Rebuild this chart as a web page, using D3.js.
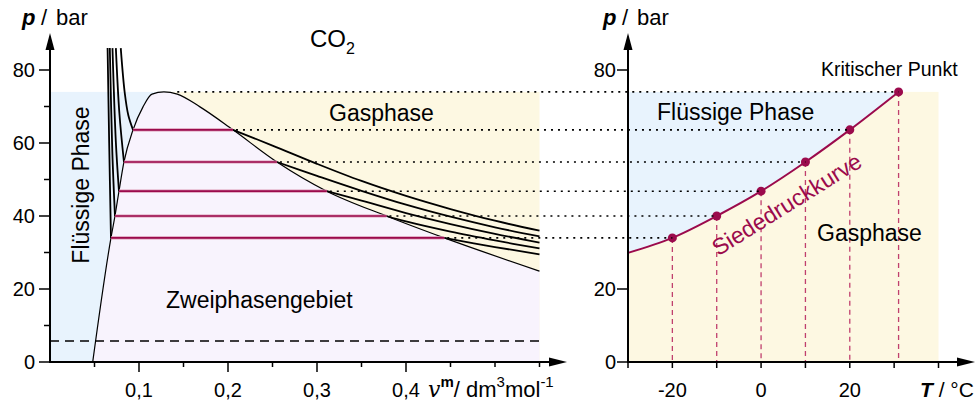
<!DOCTYPE html>
<html>
<head>
<meta charset="utf-8">
<script src="https://cdn.jsdelivr.net/npm/d3@7"></script>
<style>
  body { margin: 0; background: #fff; }
  svg { display: block; font-family: "Liberation Sans", Arial, sans-serif; }
</style>
</head>
<body>
<svg id="chart" width="975" height="405"></svg>
<script>
// ---- data ----
const temps = [-20, -10, 0, 10, 20];            // isotherms, °C
const tieP = [34, 40, 46.8, 54.8, 63.6];        // vapour pressure, bar
const tieVLiq = [0.0685, 0.073, 0.0775, 0.0831, 0.0933];
const tieVGas = [0.443, 0.378, 0.311, 0.255, 0.2056];

const liqBranches = [
    [[0.0685, 34], [0.0665, 60], [0.0647, 86]],
    [[0.073, 40], [0.070, 57.7], [0.0672, 86]],
    [[0.0775, 46.8], [0.074, 60.2], [0.0702, 86]],
    [[0.0831, 54.8], [0.078, 68], [0.074, 86]],
    [[0.0933, 63.6], [0.088, 67.6], [0.084, 73.7], [0.0795, 86]]
];
const gasBranches = [
    [[0.443, 34], [0.5, 31.5], [0.55, 29.5]],
    [[0.378, 40], [0.4, 38.5], [0.45, 35.7], [0.5, 33.3], [0.55, 31.1]],
    [[0.311, 46.8], [0.35, 44.2], [0.4, 40.8], [0.45, 37.8], [0.5, 35.1], [0.55, 32.7]],
    [[0.255, 54.8], [0.3, 51.0], [0.35, 46.9], [0.4, 43.1], [0.45, 39.8], [0.5, 36.9], [0.55, 34.4]],
    [[0.2056, 63.6], [0.25, 59.3], [0.3, 54.3], [0.35, 49.6], [0.4, 45.5], [0.45, 41.9], [0.5, 38.7], [0.55, 36.0]]
];

const binodalV = [0.048, 0.0685, 0.073, 0.0775, 0.0831, 0.0933, 0.1045, 0.1146, 0.128, 0.143, 0.1685, 0.2056, 0.255, 0.311, 0.378, 0.443, 0.55];
const binodalP = [0, 34, 40, 46.8, 54.8, 63.6, 69.9, 73.4, 74, 73.4, 69.9, 63.6, 54.8, 46.8, 40, 34, 24.9];

const critV = 0.128, critShoulderV = 0.143, critP = 74, critT = 31;
const vMax = 0.55;
const dashedP = 5.75;

const curveT = [-30, -20, -10, 0, 10, 20, 31];
const curveP = [29.9, 34, 40, 46.8, 54.8, 63.6, 74];
const pointT = [-20, -10, 0, 10, 20, 31];
const pointP = [34, 40, 46.8, 54.8, 63.6, 74];

const vMajor = [0.1, 0.2, 0.3, 0.4];
const vMajorLabels = ['0,1', '0,2', '0,3', '0,4'];
const vMinor = [0.05, 0.15, 0.25, 0.35, 0.45, 0.5, 0.55];
const pMajor = [0, 20, 40, 60, 80];
const pMinor = [10, 30, 50, 70];
const pRightLabels = [0, 20, 80];
const tTicks = [-30, -20, -10, 0, 10, 20, 30, 40];
const tLabels = [-20, 0, 20];

// ---- styles ----
const blueFill = '#e8f3fd',
    yellowFill = '#fdf8e2',
    purpleFill = '#f8f3fd',
    crimson = '#9b0a4c',
    crimsonHalo = '#dc9ab6',
    crimsonLight = '#c0406e';

// small helper, like d3-selection-multi
d3.selection.prototype.attrs = function (o) {
    Object.keys(o).forEach(k => this.attr(k, o[k]));
    return this;
};

const svg = d3.select('#chart');

const x = d3.scaleLinear().domain([0, 0.1]).range([50, 139]);
const y = d3.scaleLinear().domain([0, 80]).range([362, 70]);
const xT = d3.scaleLinear().domain([-30, 40]).range([628, 938.5]);

const fontSize = 20,
    labelSize = 23;

// ================= left chart =================
const left = svg.append('g');

left.append('rect')
    .attrs({ x: x(0), y: y(critP), width: x(critV) - x(0), height: y(0) - y(critP), fill: blueFill });
left.append('rect')
    .attrs({ x: x(critV), y: y(critP), width: x(vMax) - x(critV), height: y(0) - y(critP), fill: yellowFill });

const binodal = binodalV.map((v, i) => [v, binodalP[i]]);
left.append('path')
    .datum(binodal)
    .attr('d', d3.area().x(d => x(d[0])).y0(y(0)).y1(d => y(d[1])).curve(d3.curveMonotoneX))
    .attr('fill', purpleFill);

// dashed line at low pressure
left.append('line')
    .attrs({ x1: x(0), x2: x(vMax), y1: y(dashedP), y2: y(dashedP), stroke: '#000', 'stroke-width': 1.5, 'stroke-dasharray': '9,6' });

// binodal
left.append('path')
    .datum(binodal)
    .attr('d', d3.line().x(d => x(d[0])).y(d => y(d[1])).curve(d3.curveMonotoneX))
    .attrs({ fill: 'none', stroke: '#000', 'stroke-width': 1.2 });

// isotherms
const isoLine = d3.line().x(d => x(d[0])).y(d => y(d[1])).curve(d3.curveCatmullRom);
liqBranches.concat(gasBranches).forEach(b => {
    left.append('path').attr('d', isoLine(b))
        .attrs({ fill: 'none', stroke: '#000', 'stroke-width': 1.8 });
});

// tie lines
tieP.forEach((p, i) => {
    left.append('line')
        .attrs({ x1: x(tieVLiq[i]), x2: x(tieVGas[i]), y1: y(p), y2: y(p), stroke: crimsonHalo, 'stroke-width': 3.2 });
    left.append('line')
        .attrs({ x1: x(tieVLiq[i]), x2: x(tieVGas[i]), y1: y(p), y2: y(p), stroke: crimson, 'stroke-width': 1.7 });
});

// ================= right chart =================
const right = svg.append('g');
right.append('rect')
    .attrs({ x: xT(-30), y: y(critP), width: xT(40) - xT(-30), height: y(0) - y(critP), fill: yellowFill });

const vap = curveT.map((t, i) => [t, curveP[i]]);
right.append('path')
    .datum(vap)
    .attr('d', d3.area().x(d => xT(d[0])).y0(y(critP)).y1(d => y(d[1])).curve(d3.curveMonotoneX))
    .attr('fill', blueFill);

pointT.forEach((t, i) => {
    right.append('line')
        .attrs({ x1: xT(t), x2: xT(t), y1: y(pointP[i]), y2: y(0), stroke: crimsonLight, 'stroke-width': 1.3, 'stroke-dasharray': '5,4' });
});

// dotted connectors
const dotted = svg.append('g');
tieP.forEach((p, i) => {
    dotted.append('line')
        .attrs({ x1: x(tieVGas[i]) + 3, x2: xT(temps[i]), y1: y(p), y2: y(p), stroke: '#000', 'stroke-width': 1.6, 'stroke-dasharray': '2,5' });
});
dotted.append('line')
    .attrs({ x1: x(critShoulderV), x2: xT(critT), y1: y(critP), y2: y(critP), stroke: '#000', 'stroke-width': 1.6, 'stroke-dasharray': '2,5' });

right.append('path')
    .datum(vap)
    .attr('d', d3.line().x(d => xT(d[0])).y(d => y(d[1])).curve(d3.curveMonotoneX))
    .attrs({ fill: 'none', stroke: crimson, 'stroke-width': 2 });

pointT.forEach((t, i) => {
    right.append('circle')
        .attrs({ cx: xT(t), cy: y(pointP[i]), r: 4.5, fill: crimson });
});

// ================= axes =================
const axes = svg.append('g').attr('stroke', '#000');

function arrowUp(g, cx, tipY) {
    g.append('path').attr('d', `M${cx},${tipY} L${cx - 4.5},${tipY + 17} L${cx + 4.5},${tipY + 17} Z`)
        .attrs({ fill: '#000', stroke: 'none' });
}
function arrowRight(g, tipX, cy) {
    g.append('path').attr('d', `M${tipX},${cy} L${tipX - 18},${cy - 4.5} L${tipX - 18},${cy + 4.5} Z`)
        .attrs({ fill: '#000', stroke: 'none' });
}

// left axes
axes.append('line').attrs({ x1: x(0), x2: x(0), y1: y(0), y2: 48, 'stroke-width': 2 });
arrowUp(axes, x(0), 33);
axes.append('line').attrs({ x1: x(0) - 1, x2: 552, y1: y(0), y2: y(0), 'stroke-width': 2 });
arrowRight(axes, 567, y(0));

pMajor.forEach(p => axes.append('line').attrs({ x1: x(0) - 11, x2: x(0), y1: y(p), y2: y(p), 'stroke-width': 1.5 }));
pMinor.forEach(p => axes.append('line').attrs({ x1: x(0) - 6, x2: x(0), y1: y(p), y2: y(p), 'stroke-width': 1.5 }));
vMajor.forEach(v => axes.append('line').attrs({ x1: x(v), x2: x(v), y1: y(0), y2: y(0) + 10, 'stroke-width': 1.5 }));
vMinor.forEach(v => axes.append('line').attrs({ x1: x(v), x2: x(v), y1: y(0), y2: y(0) + 5, 'stroke-width': 1.5 }));

// right axes
axes.append('line').attrs({ x1: xT(-30), x2: xT(-30), y1: y(0), y2: 48, 'stroke-width': 2 });
arrowUp(axes, xT(-30), 33);
axes.append('line').attrs({ x1: xT(-30) - 1, x2: 960, y1: y(0), y2: y(0), 'stroke-width': 2 });
arrowRight(axes, 975, y(0));
pRightLabels.forEach(p => axes.append('line').attrs({ x1: xT(-30) - 11, x2: xT(-30), y1: y(p), y2: y(p), 'stroke-width': 1.5 }));
tTicks.forEach(t => axes.append('line').attrs({ x1: xT(t), x2: xT(t), y1: y(0), y2: y(0) + 6, 'stroke-width': 1.5 }));

// ================= text =================
const txt = svg.append('g').attr('fill', '#000');

pMajor.forEach(p => txt.append('text').text(p)
    .attrs({ x: x(0) - 15, y: y(p), 'text-anchor': 'end', 'dominant-baseline': 'central', 'font-size': fontSize }));
vMajor.forEach((v, i) => txt.append('text').text(vMajorLabels[i])
    .attrs({ x: x(v), y: 397, 'text-anchor': 'middle', 'font-size': fontSize }));
pRightLabels.forEach(p => txt.append('text').text(p)
    .attrs({ x: xT(-30) - 12, y: y(p), 'text-anchor': 'end', 'dominant-baseline': 'central', 'font-size': fontSize }));
tLabels.forEach(t => txt.append('text').text(t)
    .attrs({ x: xT(t), y: 397, 'text-anchor': 'middle', 'font-size': fontSize }));

function pLabel(x0) {
    const t = txt.append('text').attrs({ x: x0, y: 25, 'font-size': 22 });
    t.append('tspan').text('p').attrs({ 'font-weight': 'bold', 'font-style': 'italic' });
    t.append('tspan').text('/').attrs({ x: x0 + 19 });
    t.append('tspan').text('bar').attrs({ x: x0 + 34 });
}
pLabel(22);
pLabel(603);

// v^m / dm3 mol-1
const vl = txt.append('text').attrs({ x: 428, y: 397, 'font-size': 22 });
vl.append('tspan').text('v').attrs({ 'font-family': '"DejaVu Serif", serif', 'font-style': 'italic', 'font-size': 22 });
vl.append('tspan').text('m').attrs({ 'font-weight': 'bold', 'font-size': 15, dy: -10 });
vl.append('tspan').text('/ dm').attrs({ dy: 10 });
vl.append('tspan').text('3').attrs({ 'font-size': 15, dy: -10 });
vl.append('tspan').text('mol').attrs({ dy: 10 });
vl.append('tspan').text('-1').attrs({ 'font-size': 15, dy: -10 });

const tl = txt.append('text').attrs({ x: 920, y: 397, 'font-size': 21 });
tl.append('tspan').text('T').attrs({ 'font-weight': 'bold', 'font-style': 'italic' });
tl.append('tspan').text(' / °C');

const co = txt.append('text').attrs({ x: 310, y: 47, 'font-size': 24 });
co.append('tspan').text('CO');
co.append('tspan').text('2').attrs({ 'font-size': 16, dy: 7 });

txt.append('text').text('Gasphase').attrs({ x: 329, y: 121, 'font-size': labelSize });
txt.append('text').text('Zweiphasengebiet').attrs({ x: 166, y: 308, 'font-size': labelSize });
txt.append('text').text('Flüssige Phase')
    .attrs({ 'text-anchor': 'middle', transform: 'translate(89,185) rotate(-90)', 'font-size': labelSize });

txt.append('text').text('Flüssige Phase').attrs({ x: 657, y: 120, 'font-size': labelSize });
txt.append('text').text('Gasphase').attrs({ x: 817, y: 241, 'font-size': labelSize });
txt.append('text').text('Kritischer Punkt').attrs({ x: 821, y: 76, 'font-size': 19.5 });
txt.append('text').text('Siededruckkurve')
    .attrs({ 'text-anchor': 'middle', transform: 'translate(791,211) rotate(-32)', 'font-size': labelSize, fill: crimson });
</script>
</body>
</html>
